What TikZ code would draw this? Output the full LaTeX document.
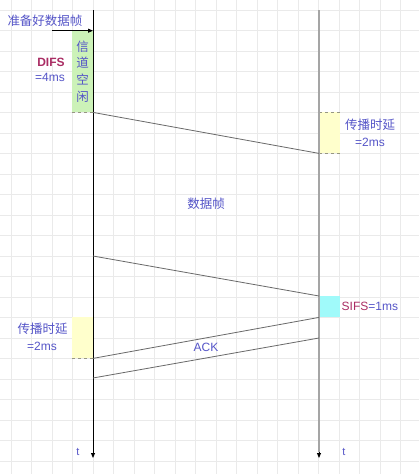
\documentclass[tikz,border=0pt]{standalone}
\usepackage{fontspec}
\setmainfont{Liberation Sans}
\newfontfamily\cjk{Noto Sans CJK SC}
\usetikzlibrary{arrows.meta}
\definecolor{txtblue}{RGB}{85,85,200}
\definecolor{difsred}{RGB}{170,45,100}
\definecolor{gridc}{RGB}{234,234,234}
\definecolor{idlegreen}{RGB}{204,242,184}
\definecolor{delayyellow}{RGB}{255,255,204}
\definecolor{sifscyan}{RGB}{160,250,250}
\definecolor{linegray}{RGB}{105,105,105}
\definecolor{lifegray}{RGB}{165,165,165}
\definecolor{edgegray}{RGB}{150,150,130}
\tikzset{
  lbl/.style={font=\fontsize{12}{14}\selectfont, text=txtblue, inner sep=0pt},
  cjklbl/.style={font=\fontsize{12.5}{14}\selectfont\cjk, text=txtblue, inner sep=0pt},
  tlbl/.style={font=\fontsize{11}{12}\selectfont, text=txtblue, inner sep=0pt},
  boxn/.style={draw=none, inner sep=0pt, minimum width=20.5pt},
  boxedge/.style={draw=edgegray, dashed, line width=0.6pt},
  msg/.style={draw=linegray, line width=0.8pt},
  lifetip/.style={-{Triangle[length=5pt,width=4pt]}},
}
\begin{document}
\begin{tikzpicture}[x=1pt,y=-1pt]
\useasboundingbox (0,0) rectangle (419,474);
\fill[white] (0,0) rectangle (419,474);
% grid
\foreach \k in {-4,...,15} {
  \draw[gridc, line width=0.6pt] ({93+20.5*\k},0) -- ({93+20.5*\k},474);
}
\foreach \k in {-1,...,21} {
  \draw[gridc, line width=0.6pt] (0,{30.7+20.5*\k}) -- (419,{30.7+20.5*\k});
}
% boxes
\node[boxn, fill=idlegreen, minimum height=81.3pt, anchor=north east,
      font=\fontsize{12.5}{16.8}\selectfont\cjk, text=txtblue, align=center] (idle) at (93,30.7) {信\\道\\空\\闲};
\node[boxn, fill=delayyellow, minimum height=41pt, anchor=north west] (delayR) at (319,112) {};
\node[boxn, fill=sifscyan, minimum height=21pt, anchor=north west] (sifs) at (319,296) {};
\node[boxn, fill=delayyellow, minimum height=41.5pt, anchor=north east] (delayL) at (93,316.5) {};
\draw[boxedge] (idle.south west) -- (idle.south east);
\draw[boxedge] (delayR.north west) -- (delayR.north east);
\draw[boxedge] (delayR.south west) -- (delayR.south east);
\draw[boxedge] (delayL.south west) -- (delayL.south east);
% lifelines
\coordinate (Ltop) at (93,10);
\coordinate (Lbot) at (93,458);
\coordinate (Rtop) at (319,10);
\coordinate (Rbot) at (319,458);
\draw[black, line width=0.9pt, lifetip] (Ltop) -- (Lbot);
\draw[lifegray, line width=1.4pt] (Rtop) -- (319,452);
\draw[black, line width=0.9pt, lifetip] (319,452) -- (Rbot);
% ready arrow
\coordinate (rdy) at (52,30.7);
\draw[black, line width=0.8pt, lifetip] (rdy) -- (idle.north east);
% messages
\coordinate (d2s) at (93,256);
\coordinate (a2s) at (319,338);
\coordinate (a2e) at (93,378);
\draw[msg] (idle.south east) -- (delayR.south west);
\draw[msg] (d2s) -- (sifs.north west);
\draw[msg] (sifs.south west) -- (delayL.south east);
\draw[msg] (a2s) -- (a2e);
% labels
\node[cjklbl] (ready) at (45,21) {准备好数据帧};
\node[lbl, font=\fontsize{12}{14}\selectfont\bfseries, text=difsred] (difs) at (51,62) {DIFS};
\node[lbl] (difsv) at (50,77.5) {=4ms};
\node[cjklbl] (pdR) at (370,125) {传播时延};
\node[lbl] (pdRv) at (370,142.5) {=2ms};
\node[cjklbl] (data) at (206,204) {数据帧};
\node[lbl, anchor=west] (sifsl) at (341.5,306.7) {\textcolor{difsred}{SIFS}=1ms};
\node[cjklbl] (pdL) at (42.5,329) {传播时延};
\node[lbl] (pdLv) at (42,346) {=2ms};
\node[lbl] (ack) at (206,347) {ACK};
\node[tlbl] (tL) at (78,452) {t};
\node[tlbl] (tR) at (344,452) {t};
\end{tikzpicture}
\end{document}
